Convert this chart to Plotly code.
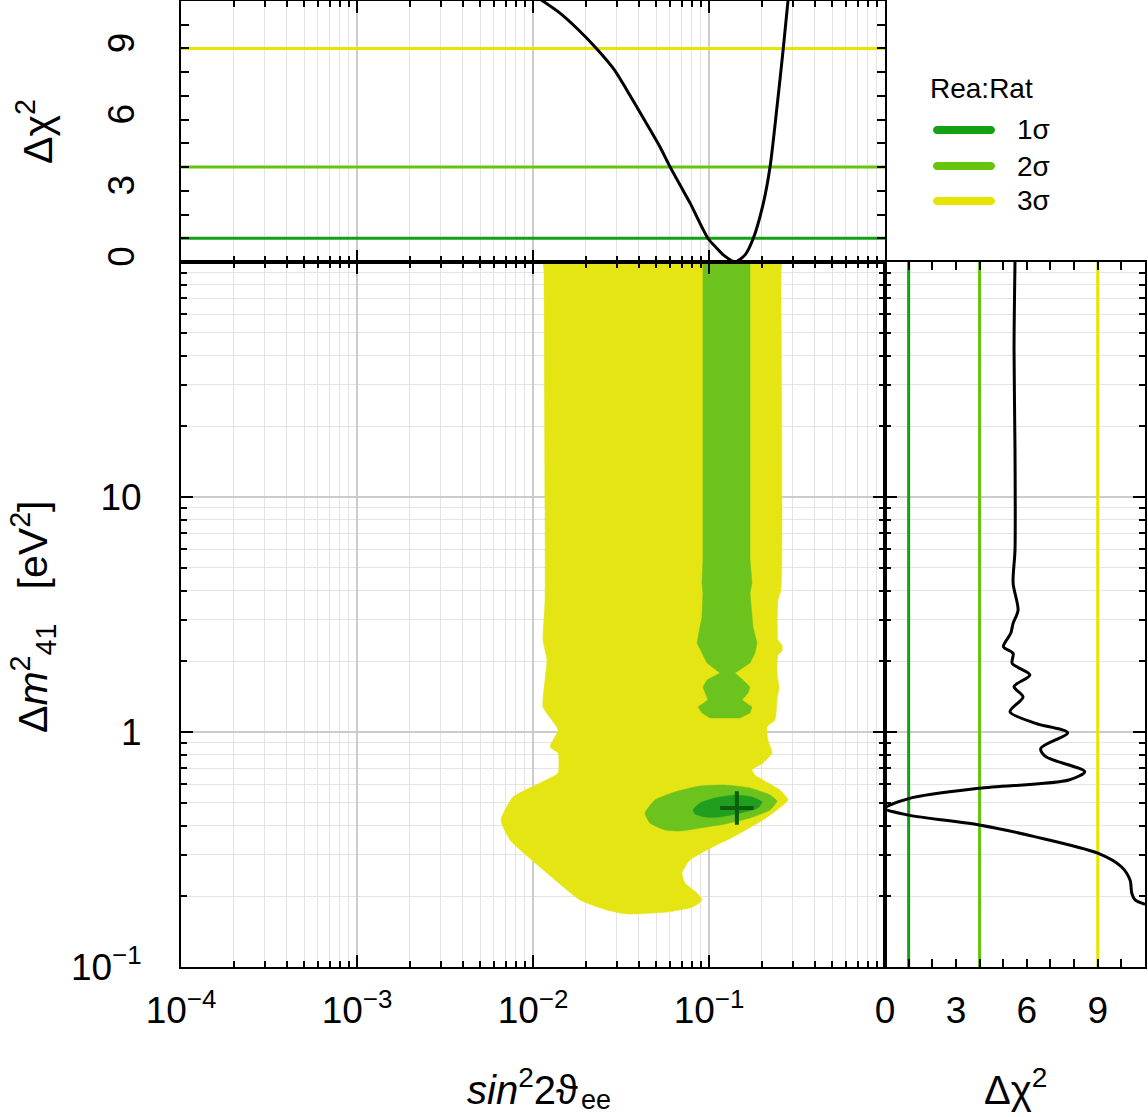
import plotly.graph_objects as go

# ---------------- data ----------------
sigma_labels = ["1σ", "2σ", "3σ"]
sigma_levels = [1, 4, 9]
sigma_line_colors = ["#14a014", "#66c40c", "#e5e500"]
region_fill_colors = ["#1f9e1f", "#6cc31e", "#e5e514"]

# 3 sigma allowed region (boundary)
r3_sin2 = [0.01155, 0.2564, 0.2564, 0.2564, 0.2466, 0.2466, 0.2600, 0.2600, 0.2466, 0.2434, 0.2498,
           0.2434, 0.2371, 0.2136, 0.2164, 0.2280, 0.2027, 0.1755, 0.1825, 0.2027, 0.2531,
           0.2812, 0.2434, 0.2027, 0.1369, 0.0974, 0.0780, 0.0702, 0.0730, 0.0855, 0.0912,
           0.0811, 0.0577, 0.0342, 0.0263, 0.0185, 0.0120, 0.0074, 0.00658, 0.0077, 0.01096,
           0.01387, 0.01387, 0.01249, 0.01387, 0.0114, 0.0117, 0.0120, 0.0114, 0.0117, 0.01155]
r3_dm2 = [100, 100, 90, 4.02, 3.645, 2.463, 2.344, 2.212, 2.127, 1.783, 1.554,
          1.369, 1.125, 1.050, 0.9247, 0.814, 0.738, 0.689, 0.656, 0.6248, 0.5664,
          0.5137, 0.4657, 0.4222, 0.3573, 0.3147, 0.2853, 0.2512, 0.2277, 0.2064, 0.1928,
          0.1800, 0.1714, 0.1680, 0.1748, 0.1928, 0.2512, 0.3471, 0.4222, 0.529, 0.6067,
          0.669, 0.814, 0.8635, 1.02, 1.277, 1.665, 2.025, 2.463, 3.645, 90]

# 2 sigma band (high mass)
r2_band_sin2 = [0.0924, 0.171, 0.171, 0.1755, 0.171, 0.1778, 0.1874, 0.1825, 0.171, 0.1405,
                0.156, 0.171, 0.1665, 0.154, 0.1755, 0.171, 0.150, 0.1013, 0.0912, 0.0866,
                0.0987, 0.0949, 0.0924, 0.0974, 0.1155, 0.0974, 0.0889, 0.0855, 0.0889, 0.0912,
                0.0924, 0.0912, 0.0924]
r2_band_dm2 = [100, 100, 5.395, 4.305, 3.904, 2.798, 2.391, 2.169, 1.966, 1.783,
               1.665, 1.554, 1.466, 1.369, 1.277, 1.205, 1.147, 1.147, 1.205, 1.277,
               1.369, 1.466, 1.554, 1.665, 1.783, 1.966, 2.233, 2.391, 2.798, 3.086,
               3.904, 4.305, 5.395]

# 2 sigma island (low mass)
r2_island_sin2 = [0.0433, 0.0493, 0.0641, 0.0889, 0.1233, 0.171, 0.2222, 0.2434, 0.2222, 0.171,
                  0.1233, 0.0889, 0.0684, 0.0562, 0.0462]
r2_island_dm2 = [0.452, 0.5137, 0.5556, 0.589, 0.595, 0.5777, 0.5394, 0.5086, 0.4657, 0.4305,
                 0.406, 0.3904, 0.379, 0.3828, 0.410]

# 1 sigma island
r1_sin2 = [0.0811, 0.0889, 0.1082, 0.1405, 0.1755, 0.200, 0.190, 0.150, 0.1155, 0.0949, 0.0833]
r1_dm2 = [0.4657, 0.4987, 0.5237, 0.5394, 0.529, 0.5036, 0.4749, 0.452, 0.4347, 0.4347, 0.4477]

best_fit_sin2 = [0.144]
best_fit_dm2 = [0.475]

# marginal Δχ² vs sin²2θ
prof_sin2 = [0.0111, 0.01423, 0.0181, 0.0230, 0.0290, 0.0341, 0.0443, 0.0527, 0.060, 0.069,
             0.078, 0.0986, 0.1100, 0.1205, 0.1406, 0.1603, 0.1786, 0.2035, 0.2222, 0.2424,
             0.2642, 0.2814]
prof_sin2_dchi2 = [11.05, 10.49, 9.79, 8.99, 8.10, 7.25, 5.82, 4.85, 4.02, 3.20,
                   2.49, 1.0, 0.60, 0.30, 0.0, 0.3, 1.0, 2.47, 4.0, 6.41,
                   8.99, 11.05]

# marginal Δχ² vs Δm²41
prof_dm2 = [100, 42.3, 15.85, 5.94, 4.30, 3.30, 2.90, 2.63, 2.31, 2.16,
            1.96, 1.75, 1.56, 1.41, 1.22, 1.089, 0.993, 0.852, 0.785, 0.678,
            0.625, 0.576, 0.522, 0.473, 0.443, 0.402, 0.358, 0.305, 0.267, 0.234,
            0.206, 0.193, 0.185]
prof_dm2_dchi2 = [5.50, 5.46, 5.50, 5.50, 5.42, 5.63, 5.42, 5.32, 5.01, 5.42,
                  5.38, 6.13, 5.46, 5.84, 5.29, 6.37, 7.73, 6.59, 6.80, 8.45,
                  7.78, 3.99, 1.04, 0.0, 1.0, 3.99, 6.37, 9.0, 10.0, 10.37,
                  10.44, 10.58, 11.0]

x_tick_vals = [1e-4, 1e-3, 1e-2, 1e-1]
x_tick_text = ["10<sup>−4</sup>", "10<sup>−3</sup>", "10<sup>−2</sup>", "10<sup>−1</sup>"]
y_tick_vals = [0.1, 1, 10]
y_tick_text = ["10<sup>−1</sup>", "1", "10"]
chi_tick_vals = [0, 3, 6, 9]
chi_tick_text = ["0", "3", "6", "9"]
legend_title = "Rea:Rat"

# ---------------- layout geometry ----------------
W, H = 1148, 1117
def px(x):
    return x / W
def py(y):
    return 1 - y / H

X_DOM = [px(181), px(885)]
XR_DOM = [px(885), px(1145)]
Y_DOM = [py(967), py(262)]
YT_DOM = [py(262), py(1)]

FAM = "Liberation Sans, Arial, sans-serif"
TICK_FONT = dict(family=FAM, size=37, color="black")
TITLE_FONT = dict(family=FAM, size=41, color="black")
BOTTOM_TITLE_FONT = dict(family=FAM, size=40, color="black")
LEG_FONT = dict(family=FAM, size=28, color="black")

minor_x = [m * 10.0 ** e for e in range(-4, 0) for m in range(2, 10)]
minor_y = [m * 10.0 ** e for e in range(-1, 2) for m in range(2, 10)]

MAJOR_GRID = "#cccccc"
MINOR_GRID = "#e4e4e4"

fig = go.Figure()

# --- main panel: allowed regions ---
def region(xs, ys, color, smooth):
    xs, ys = xs + xs[:1], ys + ys[:1]
    return go.Scatter(x=xs, y=ys, mode="lines", fill="toself",
                      fillcolor=color, line=dict(color=color, width=0.5,
                      shape="spline" if smooth else "linear", smoothing=0.5),
                      xaxis="x", yaxis="y", hoverinfo="skip", showlegend=False)

fig.add_trace(region(r3_sin2, r3_dm2, region_fill_colors[2], True))
fig.add_trace(region(r2_band_sin2, r2_band_dm2, region_fill_colors[1], False))
fig.add_trace(region(r2_island_sin2, r2_island_dm2, region_fill_colors[1], True))
fig.add_trace(region(r1_sin2, r1_dm2, region_fill_colors[0], True))
fig.add_trace(go.Scatter(x=best_fit_sin2, y=best_fit_dm2, mode="markers",
                         marker=dict(symbol="cross-thin", size=24, line=dict(color="#0b5e0b", width=4)),
                         xaxis="x", yaxis="y", showlegend=False, hoverinfo="skip"))

# --- level lines ---
for lvl, col in zip(sigma_levels, sigma_line_colors):
    fig.add_trace(go.Scatter(x=[1e-4, 1], y=[lvl, lvl], mode="lines",
                             line=dict(color=col, width=3), xaxis="x2", yaxis="y2",
                             showlegend=False, hoverinfo="skip"))
    fig.add_trace(go.Scatter(x=[lvl, lvl], y=[0.1, 100], mode="lines",
                             line=dict(color=col, width=3), xaxis="x3", yaxis="y3",
                             showlegend=False, hoverinfo="skip"))

# --- profiles ---
fig.add_trace(go.Scatter(x=prof_sin2, y=prof_sin2_dchi2, mode="lines",
                         line=dict(color="black", width=3, shape="spline", smoothing=0.7),
                         xaxis="x2", yaxis="y2", showlegend=False, hoverinfo="skip"))
fig.add_trace(go.Scatter(x=prof_dm2_dchi2, y=prof_dm2, mode="lines",
                         line=dict(color="black", width=3, shape="spline", smoothing=0.8),
                         xaxis="x3", yaxis="y3", showlegend=False, hoverinfo="skip"))

common = dict(showline=True, linecolor="black", linewidth=2, mirror="ticks",
              ticks="inside", tickcolor="black", tickwidth=2, zeroline=False,
              tickfont=TICK_FONT, automargin=False)

log_x = dict(type="log", range=[-4, 0], tickmode="array",
             tickvals=x_tick_vals, ticktext=x_tick_text, ticklen=12,
             showgrid=True, gridcolor=MAJOR_GRID, gridwidth=1.5,
             minor=dict(tickvals=minor_x, ticks="inside", ticklen=6, tickwidth=1.5,
                        tickcolor="black", showgrid=True, gridcolor=MINOR_GRID, gridwidth=1),
             **common)
log_y = dict(type="log", range=[-1, 2], tickmode="array",
             tickvals=y_tick_vals, ticktext=y_tick_text, ticklen=12,
             showgrid=True, gridcolor=MAJOR_GRID, gridwidth=1.5,
             minor=dict(tickvals=minor_y, ticks="inside", ticklen=6, tickwidth=1.5,
                        tickcolor="black", showgrid=True, gridcolor=MINOR_GRID, gridwidth=1),
             **common)
chi_ax = dict(range=[0, 11], tickmode="array", tickvals=chi_tick_vals, ticktext=chi_tick_text,
              ticklen=8, showgrid=False,
              minor=dict(dtick=1, tick0=0, ticks="inside", ticklen=8, tickwidth=2, tickcolor="black",
                         showgrid=False),
              **common)

fig.update_layout(
    width=W, height=H, margin=dict(l=0, r=0, t=0, b=0, pad=0, autoexpand=False),
    paper_bgcolor="white", plot_bgcolor="white", showlegend=False,
    xaxis=dict(anchor="y", domain=X_DOM, ticklabelstandoff=10, **log_x),
    yaxis=dict(anchor="x", domain=Y_DOM, ticklabelstandoff=30, **log_y),
    xaxis2=dict(anchor="y2", domain=X_DOM, showticklabels=False, **log_x),
    yaxis2=dict(anchor="x2", domain=YT_DOM, tickangle=-90, ticklabelstandoff=30, **chi_ax),
    xaxis3=dict(anchor="y3", domain=XR_DOM, ticklabelstandoff=10, **chi_ax),
    yaxis3=dict(anchor="x3", domain=Y_DOM, showticklabels=False, **log_y),
)

# --- axis titles ---
ann = []
ann.append(dict(text="Δχ<sup>2</sup>", x=px(35), y=py(132), textangle=-90, font=TITLE_FONT,
                xanchor="center", yanchor="middle"))
ann.append(dict(text="Δ<i>m</i><sup>2</sup><sub>41</sub>   [eV<sup>2</sup>]", x=px(33), y=py(617),
                textangle=-90, font=TITLE_FONT, xanchor="center", yanchor="middle"))
ann.append(dict(text="<i>sin</i><sup>2</sup>2ϑ", x=px(580), y=py(1087), font=BOTTOM_TITLE_FONT,
                xanchor="right", yanchor="middle"))
ann.append(dict(text="ee", x=px(579), y=py(1100), font=dict(family=FAM, size=27, color="black"),
                xanchor="left", yanchor="middle"))
ann.append(dict(text="Δχ<sup>2</sup>", x=px(1015), y=py(1087), font=BOTTOM_TITLE_FONT,
                xanchor="center", yanchor="middle"))
for a in ann:
    a.update(xref="paper", yref="paper", showarrow=False)

# --- legend (drawn by hand) ---
ann.append(dict(text=legend_title, x=px(928), y=py(88), xref="paper", yref="paper",
                showarrow=False, xanchor="left", yanchor="middle", font=LEG_FONT))
shapes = []
leg_y = [130, 166, 201]
cap = "M-27,-4 L27,-4 C29.2,-4 31,-2.2 31,0 C31,2.2 29.2,4 27,4 L-27,4 C-29.2,4 -31,2.2 -31,0 C-31,-2.2 -29.2,-4 -27,-4 Z"
for lab, col, yy in zip(sigma_labels, sigma_line_colors, leg_y):
    shapes.append(dict(type="path", xref="paper", yref="paper", xsizemode="pixel", ysizemode="pixel",
                       xanchor=px(964), yanchor=py(yy), path=cap, fillcolor=col,
                       line=dict(width=0)))
    ann.append(dict(text=lab, x=px(1015), y=py(yy), xref="paper", yref="paper", showarrow=False,
                    xanchor="left", yanchor="middle", font=LEG_FONT))

fig.update_layout(annotations=ann, shapes=shapes)

fig.write_html("out.html")
